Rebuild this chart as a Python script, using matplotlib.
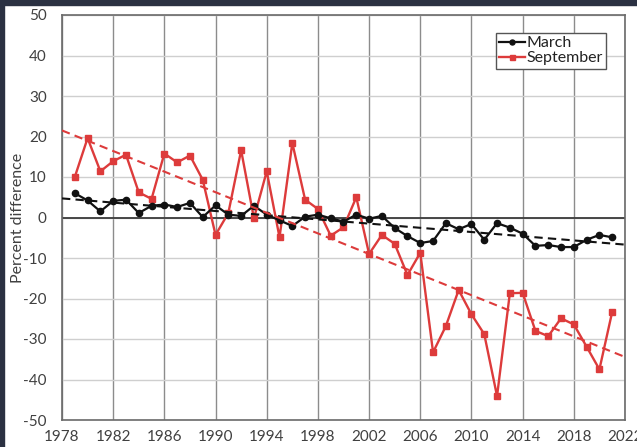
import matplotlib

matplotlib.use("Agg")
import matplotlib.pyplot as plt
import numpy as np
from matplotlib.patches import Rectangle

plt.rcParams["font.family"] = ["Lato", "DejaVu Sans"]
plt.rcParams["axes.unicode_minus"] = False

years = np.arange(1979, 2022)

march = [
    6.0, 4.2, 1.5, 4.1, 4.4, 1.1, 2.9, 3.2, 2.6, 3.6,
    0.1, 3.0, 0.7, 0.4, 2.9, 0.7, -0.7, -2.1, 0.2, 0.7,
    -0.2, -1.0, 0.7, -0.3, 0.4, -2.6, -4.6, -6.3, -5.8, -1.4,
    -2.9, -1.6, -5.5, -1.4, -2.5, -4.0, -7.0, -6.8, -7.3, -7.3,
    -5.5, -4.3, -4.9,
]

september = [
    10.0, 19.6, 11.4, 13.9, 15.5, 6.2, 4.6, 15.8, 13.6, 15.3,
    9.3, -4.3, 1.1, 16.6, -0.2, 11.4, -4.9, 18.4, 4.4, 2.1,
    -4.5, -2.4, 5.0, -9.0, -4.3, -6.5, -14.2, -8.7, -33.3, -26.8,
    -17.9, -23.9, -28.8, -44.1, -18.7, -18.6, -28.0, -29.3, -24.9, -26.4,
    -31.9, -37.5, -23.3,
]

trend_span = np.array([1978, 2022])

RED = "#dd3b3b"
TEXT = "#404040"


def main() -> None:
    fig = plt.figure(figsize=(6.37, 4.47), dpi=100, facecolor="white")
    ax = fig.add_axes([62 / 637, 27 / 447, 563 / 637, 405 / 447])

    # dark frame strips along the top and left edge
    fig.patches.append(Rectangle((0, 1 - 5 / 447), 1, 5 / 447, transform=fig.transFigure,
                                 color="#2b3142", zorder=0))
    fig.patches.append(Rectangle((0, 0), 4 / 637, 1, transform=fig.transFigure,
                                 color="#2b3142", zorder=0))

    for yr in range(1978, 2023, 4):
        ax.axvline(yr, color="#8c8c8c", lw=1.0, zorder=1)
    for val in range(-50, 51, 10):
        ax.axhline(val, color="#cfcfcf", lw=1.0, zorder=1)
    ax.axhline(0, color="#3a3a3a", lw=1.3, zorder=2)

    ax.plot(years, march, color="#111111", lw=1.6, marker="o", ms=4.5,
            label="March", zorder=4)
    ax.plot(years, september, color=RED, lw=1.7, marker="s", ms=4.5,
            label="September", zorder=3)

    m_fit = np.polyfit(years, march, 1)
    s_fit = np.polyfit(years, september, 1)
    ax.plot(trend_span, np.polyval(m_fit, trend_span), "--", color="#111111",
            lw=1.5, dashes=(4, 2.5), zorder=5)
    ax.plot(trend_span, np.polyval(s_fit, trend_span), "--", color=RED,
            lw=1.5, dashes=(4, 2.5), zorder=5)

    ax.set_xlim(1978, 2022)
    ax.set_ylim(-50, 50)
    ax.set_xticks(range(1978, 2023, 4))
    ax.set_yticks(range(-50, 51, 10))
    ax.tick_params(colors=TEXT, labelsize=11, length=0)
    ax.tick_params(axis="x", pad=7)
    ax.tick_params(axis="y", pad=11)
    for spine in ax.spines.values():
        spine.set_color("#6a6a6a")
        spine.set_linewidth(1.2)
    ax.set_ylabel("Percent difference", color=TEXT, fontsize=11.5)
    ax.yaxis.set_label_coords(-0.066, 0.5)

    leg = ax.legend(loc="upper right", bbox_to_anchor=(0.98, 0.975), fontsize=11.5,
                    handlelength=1.6, handletextpad=0.1, borderpad=0.2,
                    labelspacing=0.05, fancybox=False, framealpha=1,
                    edgecolor="#555555", markerscale=0.8)
    leg.get_frame().set_linewidth(1.0)
    for text in leg.get_texts():
        text.set_color("#222222")

    fig.savefig("out.png", dpi=100, facecolor="white")
    plt.close(fig)


if __name__ == "__main__":
    main()
